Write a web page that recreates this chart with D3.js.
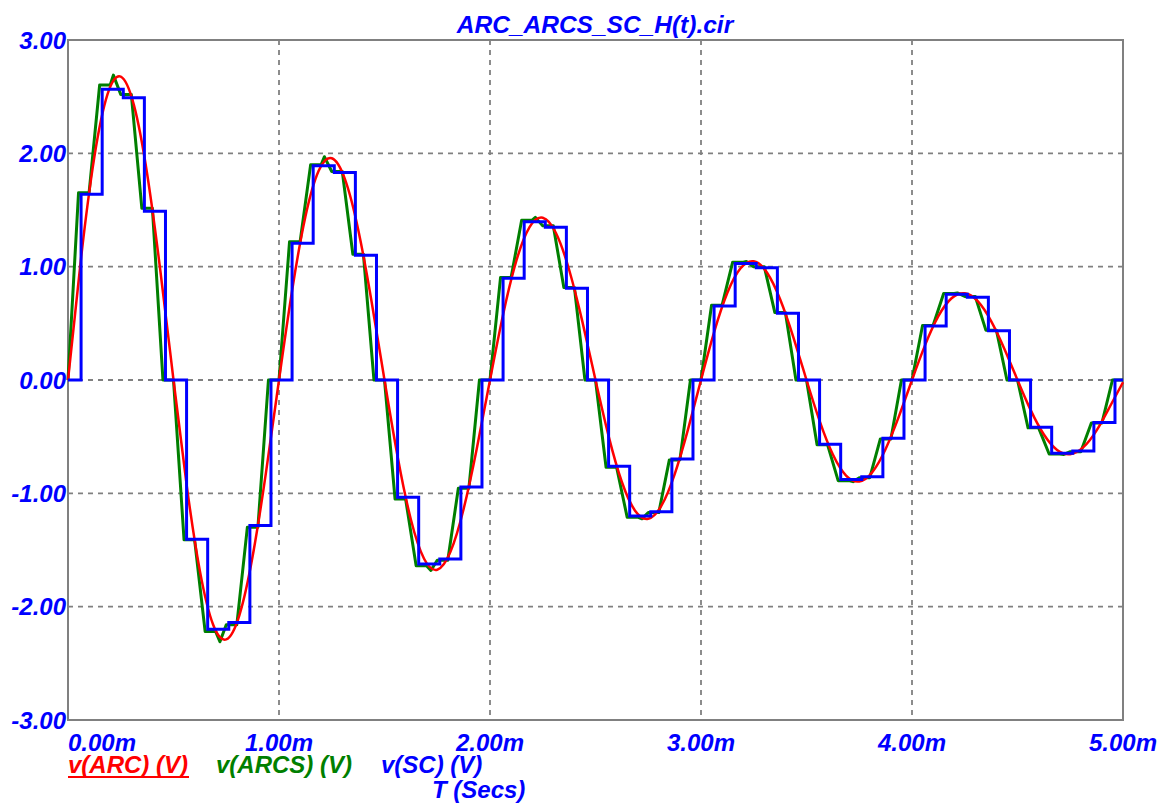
<!DOCTYPE html>
<html>
<head>
<meta charset="utf-8">
<script src="https://cdn.jsdelivr.net/npm/d3@7"></script>
<style>
  body { margin: 0; background: #fff; }
  text { font-family: 'Liberation Sans', Arial, sans-serif; font-weight: bold; font-style: italic; }
</style>
</head>
<body>
<div id="chart"></div>
<script>
// time axis in ms, voltages in V
const xTicks = [0, 1, 2, 3, 4, 5]
const xTickLabels = ['0.00m', '1.00m', '2.00m', '3.00m', '4.00m', '5.00m']
const yTicks = [-3, -2, -1, 0, 1, 2, 3]
const yTickLabels = ['-3.00', '-2.00', '-1.00', '0.00', '1.00', '2.00', '3.00']

// v(ARC): read every 0.0625 ms
const arcStep = 0.0625
const arcValues = [
  0, 1.086, 1.969, 2.522, 2.677, 2.425, 1.820, 0.966,
  0, -0.929, -1.684, -2.157, -2.289, -2.074, -1.556, -0.826,
  0, 0.794, 1.440, 1.844, 1.957, 1.773, 1.331, 0.706,
  0, -0.679, -1.231, -1.577, -1.674, -1.516, -1.138, -0.604,
  0, 0.581, 1.053, 1.349, 1.431, 1.297, 0.973, 0.517,
  0, -0.497, -0.900, -1.153, -1.224, -1.109, -0.832, -0.442,
  0, 0.425, 0.770, 0.986, 1.047, 0.948, 0.712, 0.378,
  0, -0.363, -0.658, -0.843, -0.895, -0.811, -0.608, -0.323,
  0, 0.310, 0.563, 0.721, 0.765, 0.693, 0.520, 0.276,
  0, -0.266, -0.481, -0.617, -0.655, -0.593, -0.445, -0.236,
  -0.02
]

// v(ARCS): track for 0.05 ms then hold, one value per 0.1 ms slot
const arcsSlot = 0.1
const arcsTrack = 0.05
const arcsHold = [
  1.653, 2.603, 2.52, 1.515, 0, -1.41, -2.22, -2.16, -1.30, 0,
  1.22, 1.90, 1.84, 1.11, 0, -1.05, -1.64, -1.59, -0.955, 0,
  0.905, 1.41, 1.36, 0.817, 0, -0.77, -1.21, -1.17, -0.705, 0,
  0.66, 1.04, 1.0, 0.595, 0, -0.572, -0.888, -0.862, -0.52, 0,
  0.481, 0.763, 0.737, 0.44, 0, -0.422, -0.653, -0.633, -0.38, 0
]
// little bumps where the tracked signal peaks inside a track window
const arcsPeakT = [0.215, 0.72, 1.215, 1.72, 2.215, 2.72, 3.215, 3.72, 4.215, 4.72]
const arcsPeakV = [2.69, -2.31, 1.97, -1.68, 1.435, -1.225, 1.046, -0.897, 0.768, -0.657]

// v(SC): sample and hold, new level every 0.1 ms starting at 0.062 ms
const scFirst = 0.062
const scPeriod = 0.1
const scValues = [
  1.64, 2.565, 2.49, 1.49, 0, -1.406, -2.20, -2.14, -1.283, 0,
  1.206, 1.89, 1.83, 1.10, 0, -1.035, -1.624, -1.58, -0.944, 0,
  0.897, 1.397, 1.347, 0.809, 0, -0.76, -1.20, -1.162, -0.697, 0,
  0.653, 1.029, 0.991, 0.588, 0, -0.566, -0.879, -0.853, -0.515, 0,
  0.476, 0.756, 0.73, 0.435, 0, -0.418, -0.647, -0.627, -0.376, 0
]

const legendNames = ['v(ARC) (V)', 'v(ARCS) (V)', 'v(SC) (V)']
const seriesColors = ['#ff0000', '#007f00', '#0000ff']
const titleText = 'ARC_ARCS_SC_H(t).cir'
const xTitle = 'T (Secs)'

const width = 1159
const height = 803
const margin = { top: 40, right: 36, bottom: 83, left: 68 }
const tEnd = 5
const fontSize = 24

const svg = d3.select('#chart').append('svg')
  .attr('width', width)
  .attr('height', height)
  .style('background-color', '#fff')

const x = d3.scaleLinear().domain([0, tEnd]).range([margin.left, width - margin.right])
const y = d3.scaleLinear().domain([-3, 3]).range([height - margin.bottom, margin.top])

// grid
svg.append('g').selectAll('line')
  .data(xTicks.slice(1, -1))
  .enter().append('line')
  .attr('x1', d => x(d)).attr('x2', d => x(d))
  .attr('y1', y(3)).attr('y2', y(-3))
  .attr('stroke', '#808080').attr('stroke-width', 1.8).attr('stroke-dasharray', '5,5')

svg.append('g').selectAll('line')
  .data(yTicks.slice(1, -1))
  .enter().append('line')
  .attr('x1', x(0)).attr('x2', x(tEnd))
  .attr('y1', d => y(d)).attr('y2', d => y(d))
  .attr('stroke', '#808080').attr('stroke-width', 1.8).attr('stroke-dasharray', '5,5')

svg.append('rect')
  .attr('x', x(0)).attr('y', y(3))
  .attr('width', x(tEnd) - x(0)).attr('height', y(-3) - y(3))
  .attr('fill', 'none').attr('stroke', '#808080').attr('stroke-width', 2)

// series data
const arcData = arcValues.map((v, i) => ({ t: i * arcStep, v: v }))

let arcsData = [{ t: 0, v: 0 }]
arcsHold.forEach((h, k) => {
  const t0 = k * arcsSlot
  const pk = arcsPeakT.findIndex(p => p > t0 && p < t0 + arcsTrack)
  if (pk >= 0) arcsData.push({ t: arcsPeakT[pk], v: arcsPeakV[pk] })
  arcsData.push({ t: t0 + arcsTrack, v: h })
  arcsData.push({ t: t0 + arcsSlot, v: h })
})

let scData = [{ t: 0, v: 0 }]
scValues.forEach((v, k) => scData.push({ t: scFirst + k * scPeriod, v: v }))
scData.push({ t: tEnd, v: scValues[scValues.length - 1] })

const plot = svg.append('g')

plot.append('path')
  .datum(arcsData)
  .attr('fill', 'none').attr('stroke', seriesColors[1]).attr('stroke-width', 3)
  .attr('stroke-linejoin', 'round')
  .attr('d', d3.line().x(d => x(d.t)).y(d => y(d.v)))

plot.append('path')
  .datum(arcData)
  .attr('fill', 'none').attr('stroke', seriesColors[0]).attr('stroke-width', 2.5)
  .attr('d', d3.line().x(d => x(d.t)).y(d => y(d.v)).curve(d3.curveNatural))

plot.append('path')
  .datum(scData)
  .attr('fill', 'none').attr('stroke', seriesColors[2]).attr('stroke-width', 3)
  .attr('d', d3.line().x(d => x(d.t)).y(d => y(d.v)).curve(d3.curveStepAfter))

// axis labels
svg.append('g').selectAll('text')
  .data(yTicks)
  .enter().append('text')
  .attr('x', x(0) - 2)
  .attr('y', d => y(d))
  .attr('dy', '0.36em')
  .attr('text-anchor', 'end')
  .attr('font-size', fontSize)
  .attr('fill', '#0000ff')
  .text((d, i) => yTickLabels[i])

svg.append('g').selectAll('text')
  .data(xTicks)
  .enter().append('text')
  .attr('x', d => x(d))
  .attr('y', 751)
  .attr('text-anchor', (d, i) => i === 0 ? 'start' : 'middle')
  .attr('font-size', fontSize)
  .attr('fill', '#0000ff')
  .text((d, i) => xTickLabels[i])

svg.append('text')
  .attr('x', 595)
  .attr('y', 33)
  .attr('text-anchor', 'middle')
  .attr('font-size', 24.5)
  .attr('fill', '#0000ff')
  .text(titleText)

// legend
const legendX = [68, 216, 381]
legendNames.forEach((name, i) => {
  const t = svg.append('text')
    .attr('x', legendX[i])
    .attr('y', 773)
    .attr('font-size', fontSize)
    .attr('fill', seriesColors[i])
    .text(name)
  if (i === 0) {
    const w = t.node().getComputedTextLength()
    svg.append('line')
      .attr('x1', legendX[i]).attr('x2', legendX[i] + w + 1)
      .attr('y1', 777).attr('y2', 777)
      .attr('stroke', seriesColors[i]).attr('stroke-width', 2)
  }
})

svg.append('text')
  .attr('x', 432)
  .attr('y', 798)
  .attr('font-size', fontSize)
  .attr('fill', '#0000ff')
  .text(xTitle)
</script>
</body>
</html>
